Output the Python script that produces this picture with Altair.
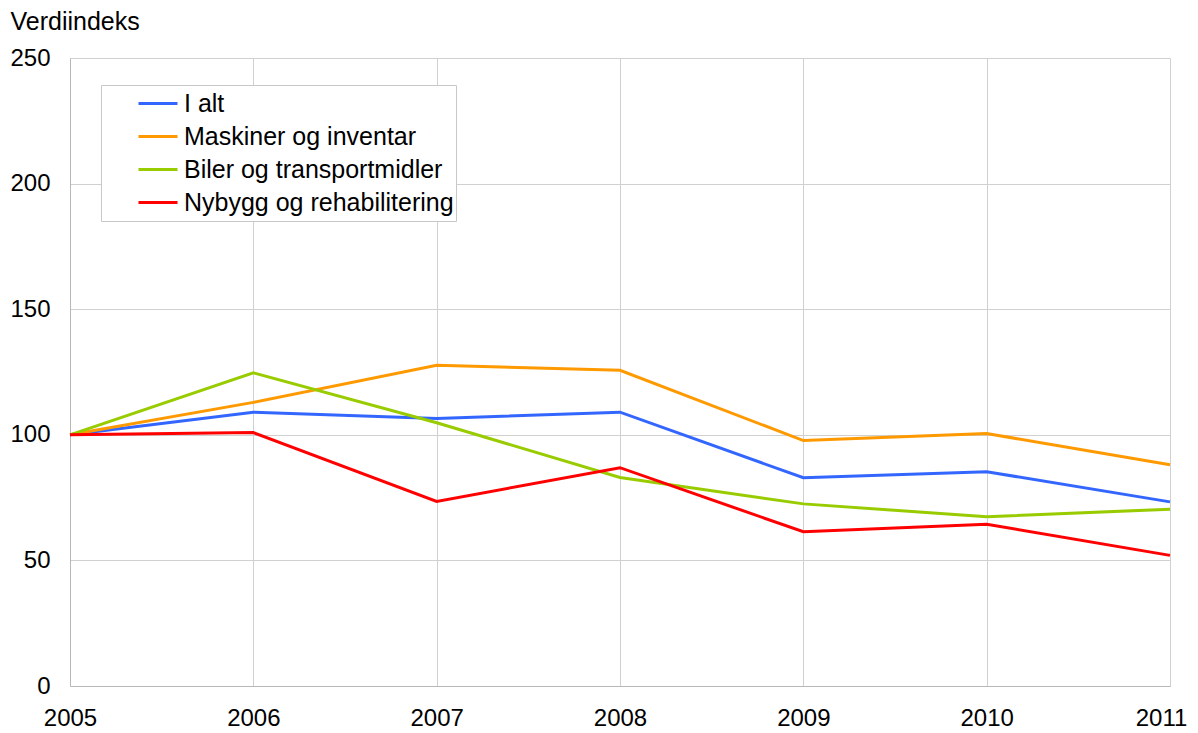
import altair as alt
import pandas as pd

years = [2005, 2006, 2007, 2008, 2009, 2010, 2011]
series_names = ["I alt", "Maskiner og inventar", "Biler og transportmidler", "Nybygg og rehabilitering"]
i_alt = [100, 109.0, 106.5, 109.0, 82.9, 85.3, 73.3]
maskiner = [100, 112.9, 127.7, 125.7, 97.7, 100.5, 88.1]
biler = [100, 124.7, 104.8, 83.0, 72.5, 67.4, 70.4]
nybygg = [100, 100.9, 73.5, 86.9, 61.4, 64.4, 52.0]
colors = ["#3366ff", "#ff9900", "#99cc00", "#ff0000"]

rows = []
for name, vals in zip(series_names, [i_alt, maskiner, biler, nybygg]):
    for y, v in zip(years, vals):
        rows.append({"year": y, "value": v, "serie": name})
df = pd.DataFrame(rows)

chart = alt.Chart(df).mark_line(strokeWidth=3).encode(
    x=alt.X("year:Q",
            scale=alt.Scale(domain=[2005, 2011], nice=False, zero=False),
            axis=alt.Axis(values=years, format="d", title=None, labelFontSize=24,
                          labelPadding=20, tickSize=0, labelFlush=False, labelBound=False,
                          labelOffset={"expr": "datum.value == 2011 ? -9 : 0"},
                          labelOverlap=False, grid=True, gridColor="#d0d0d0",
                          domainColor="#b8b8b8", labelColor="#000000",
                          labelFont="Liberation Sans")),
    y=alt.Y("value:Q",
            scale=alt.Scale(domain=[0, 250], nice=False),
            axis=alt.Axis(values=[0, 50, 100, 150, 200, 250], title="Verdiindeks",
                          titleAngle=0, titleX=-60, titleY=-29, titleAlign="left",
                          titleBaseline="alphabetic", titleFontSize=25, titleFontWeight="normal",
                          titleFont="Liberation Sans", titleColor="#000000",
                          labelFontSize=24, labelPadding=20, tickSize=0,
                          labelFont="Liberation Sans", labelColor="#000000",
                          grid=True, gridColor="#d0d0d0", domainColor="#b8b8b8")),
    color=alt.Color("serie:N",
                    scale=alt.Scale(domain=series_names, range=colors),
                    sort=series_names,
                    legend=alt.Legend(title=None, orient="none", legendX=31, legendY=27,
                                      symbolType="stroke", symbolSize=1521, symbolStrokeWidth=3,
                                      symbolOffset=34, labelOffset=5, labelFontSize=25,
                                      labelFont="Liberation Sans", labelColor="#000000",
                                      clipHeight=33, rowPadding=0, padding=2,
                                      strokeColor="#c8c8c8", fillColor="#ffffff", labelLimit=500)),
).properties(
    width=1100, height=628,
    padding={"left": 62, "top": 50, "right": 20, "bottom": 47},
    autosize=alt.AutoSizeParams(type="none"),
).configure_view(stroke=None).configure_axis(domainWidth=1)

chart.save("out.html", embed_options={"renderer": "svg", "actions": False})
